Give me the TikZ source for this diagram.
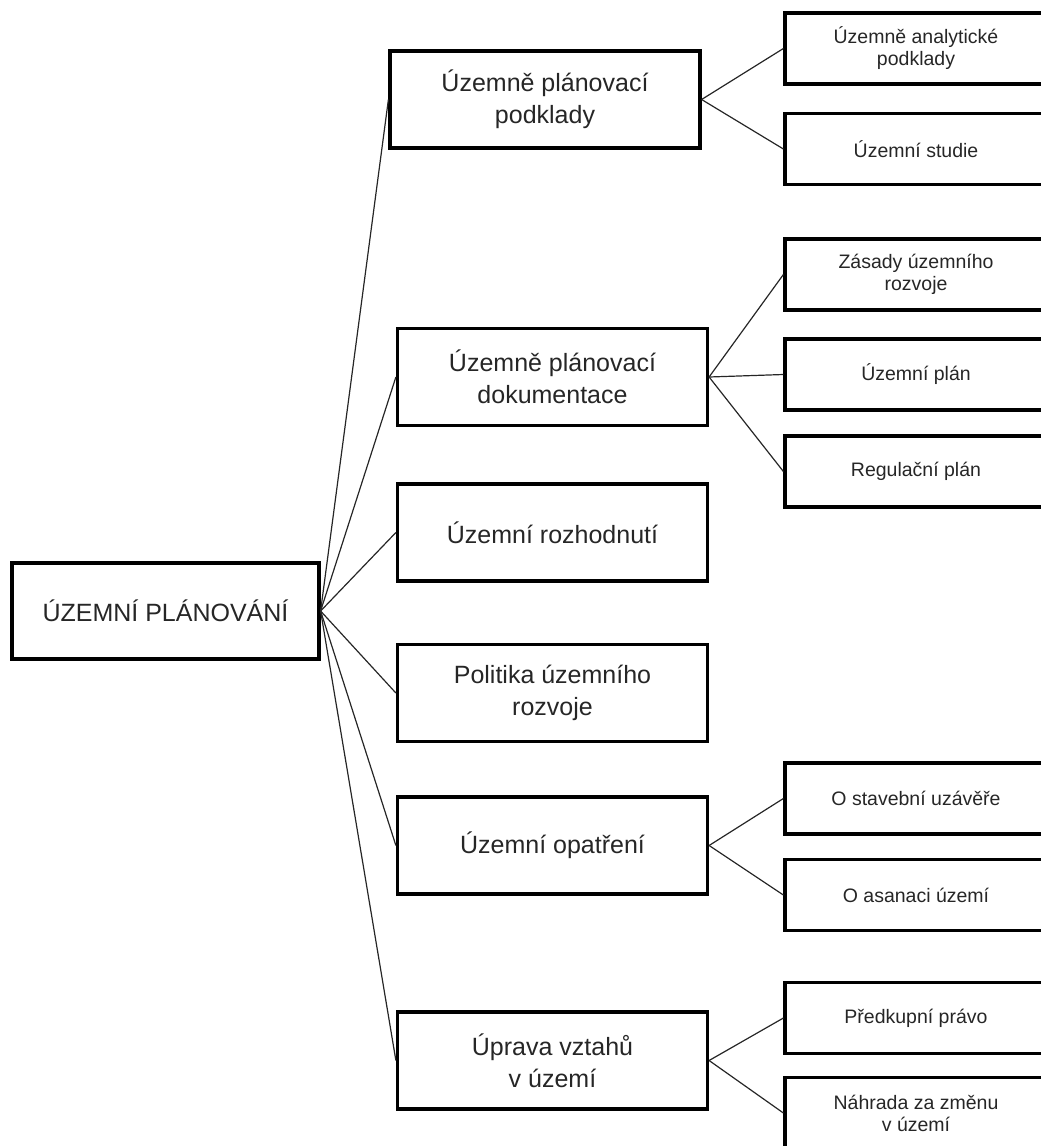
\documentclass[tikz,border=0pt]{standalone}
\usepackage{fontspec}
\setmainfont{Liberation Sans}
\begin{document}
\begin{tikzpicture}[x=1pt, y=-1pt]
        \tikzstyle{every node} = [align=center, draw, rectangle, line width=3.2pt, text=black!85]
        \tikzstyle{koren} = [minimum width=307pt, minimum height=96pt, font=\fontsize{25}{32}\selectfont]
        \tikzstyle{oblast} = [minimum width=310pt, minimum height=97pt, font=\fontsize{25}{32}\selectfont]
        \tikzstyle{polozka} = [minimum width=262pt, minimum height=71pt, font=\fontsize{19.5}{22}\selectfont]
        \tikzstyle{every edge} = [draw, line width=1.2pt, black!85]
        \useasboundingbox (0,0) rectangle (1041,1146);
        \clip (0,0) rectangle (1041,1146);

        \node[koren](up) at (165.5,611){ÚZEMNÍ PLÁNOVÁNÍ};

        \node[oblast](pp) at (545,99.5){Územně plánovací\\podklady};
        \node[oblast](pd) at (552.5,377){Územně plánovací\\dokumentace};
        \node[oblast, below of=pd, node distance=155.5pt](rz){Územní rozhodnutí};
        \node[oblast, below of=rz, node distance=160.5pt](pr){Politika územního\\rozvoje};
        \node[oblast, below of=pr, node distance=152.5pt](uo){Územní opatření};
        \node[oblast, below of=uo, node distance=215pt](uv){Úprava vztahů\\v území};

        \node[polozka](ap) at (916,48.5){Územně analytické\\podklady};
        \node[polozka, below of=ap, node distance=100.5pt](us){Územní studie};
        \node[polozka](zr) at (916,274.5){Zásady územního\\rozvoje};
        \node[polozka, below of=zr, node distance=100pt](pl){Územní plán};
        \node[polozka, below of=pl, node distance=97pt](rp){Regulační plán};
        \node[polozka](sz) at (916,798.5){O stavební uzávěře};
        \node[polozka, below of=sz, node distance=96.5pt](as){O asanaci území};
        \node[polozka](pk) at (916,1018){Předkupní právo};
        \node[polozka, below of=pk, node distance=95pt](nz){Náhrada za změnu\\v území};

        \path (up.east) edge (pp.west);
        \path (up.east) edge (pd.west);
        \path (up.east) edge (rz.west);
        \path (up.east) edge (pr.west);
        \path (up.east) edge (uo.west);
        \path (up.east) edge (uv.west);

        \path (pp.east) edge (ap.west);
        \path (pp.east) edge (us.west);
        \path (pd.east) edge (zr.west);
        \path (pd.east) edge (pl.west);
        \path (pd.east) edge (rp.west);
        \path (uo.east) edge (sz.west);
        \path (uo.east) edge (as.west);
        \path (uv.east) edge (pk.west);
        \path (uv.east) edge (nz.west);
    \end{tikzpicture}
\end{document}
